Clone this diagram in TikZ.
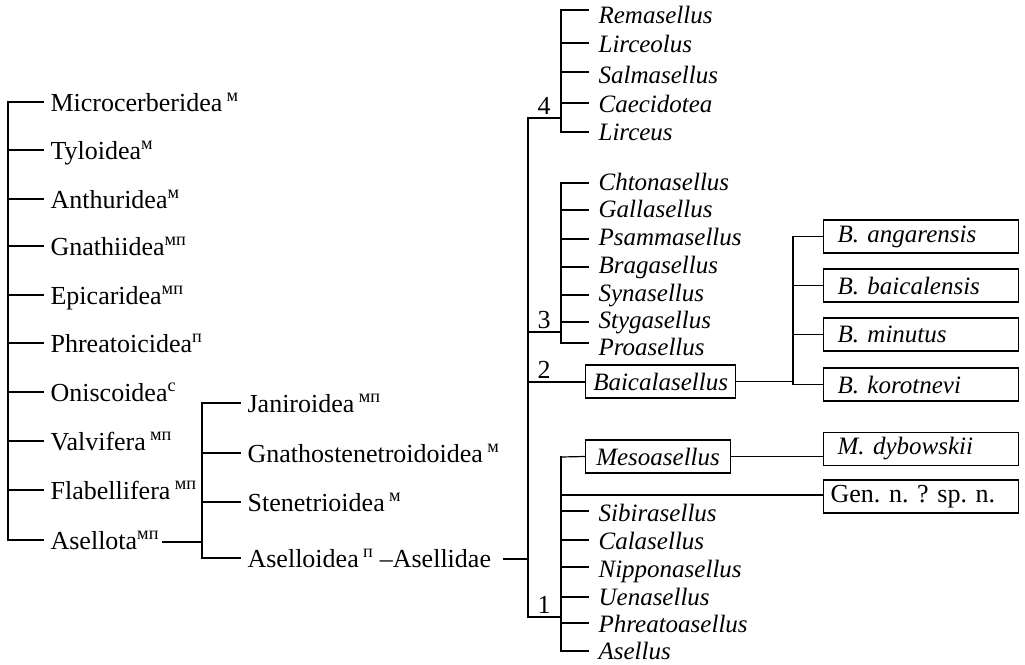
\documentclass[tikz,border=0pt]{standalone}
\usepackage{fontspec}
\setmainfont{Liberation Serif}
\newcommand\ssc[1]{\textsuperscript{#1}}
\begin{document}
\frenchspacing
\begin{tikzpicture}[x=1pt,y=-1pt, line width=1.2pt, line cap=rect,
  up/.style={font=\fontsize{26}{30}\selectfont, inner sep=0pt, anchor=base west},
  it/.style={font=\fontsize{25}{28}\selectfont\itshape, inner sep=0pt, anchor=base west},
  num/.style={font=\fontsize{26}{30}\selectfont, inner sep=0pt, anchor=base},
  twig/.style={shorten >=7pt},
  twigb/.style={shorten >=10pt},
  taxbox/.style={draw, line width=1.2pt, minimum height=33pt, inner ysep=0pt, font=\fontsize{25}{28}\selectfont\itshape},
  spbox/.style={taxbox, minimum width=195pt, text width=167pt, inner xsep=14pt, align=left, anchor=west}
]
\useasboundingbox (0,0) rectangle (1025,664);

% ---- left column
\foreach \n/\y/\t in {1/102/{Microcerberidea\,\ssc{м}},2/150/{Tyloidea\ssc{м}},3/199/{Anthuridea\ssc{м}},
  4/246/{Gnathiidea\ssc{мп}},5/295/{Epicaridea\ssc{мп}},6/343/{Phreatoicidea\ssc{п}},
  7/392/{Oniscoidea\ssc{с}},8/441/{Valvifera\,\ssc{мп}},9/490/{Flabellifera\,\ssc{мп}},10/540/{Asellota\ssc{мп}}}{
  \coordinate (l\n) at (8,\y);
  \node[up] (m\n) at (50,\y+9) {\t};
  \draw[twig] (l\n) -- (l\n -| m\n.west);
}
\draw (l1) -- (l10);

% ---- Asellota subtree
\coordinate (s0) at (202,542);
\draw[shorten <=3pt] (m10.east |- s0) -- (s0);
\foreach \n/\y/\t in {1/403/{Janiroidea\,\ssc{мп}},2/453/{Gnathostenetroidoidea\,\ssc{м}},
  3/502/{Stenetrioidea\,\ssc{м}},4/558/{Aselloidea\,\ssc{п} –Asellidae}}{
  \coordinate (s\n) at (202,\y);
  \node[up] (a\n) at (247,\y+9) {\t};
  \draw[twig] (s\n) -- (s\n -| a\n.west);
}
\draw (s1) -- (s4);

% ---- main right stem
\coordinate (r0) at (528,559);
\coordinate (r4) at (528,118);
\coordinate (r3) at (528,332);
\coordinate (r2) at (528,382);
\coordinate (r1) at (528,617);
\draw[shorten <=12pt] (a4.east |- r0) -- (r0);
\draw (r4) -- (r1);
\node[num] (n4) at (544,114) {4};
\node[num] (n3) at (544,328) {3};
\node[num] (n2) at (544,378) {2};
\node[num] (n1) at (544,613) {1};

% ---- group 4
\coordinate (g4) at (561,118);
\draw (r4) -- (g4);
\foreach \n/\y/\b/\t in {1/10/23/Remasellus,2/43/52/Lirceolus,3/72/83/Salmasellus,4/103/112/Caecidotea,5/132/140/Lirceus}{
  \coordinate (f\n) at (561,\y);
  \node[it] (fa\n) at (598,\b) {\t};
  \draw[twigb] (f\n) -- (f\n -| fa\n.west);
}
\draw (f1) -- (f5);

% ---- group 3
\coordinate (g3) at (561,332);
\draw (r3) -- (g3);
\foreach \n/\y/\b/\t in {1/183/190/Chtonasellus,2/210/217/Gallasellus,3/239/245/Psammasellus,4/267/273/Bragasellus,
  5/295/301/Synasellus,6/322/328/Stygasellus,7/343/355/Proasellus}{
  \coordinate (h\n) at (561,\y);
  \node[it] (ha\n) at (598,\b) {\t};
  \draw[twigb] (h\n) -- (h\n -| ha\n.west);
}
\draw (h1) -- (h7);

% ---- group 2
\node[taxbox, minimum width=150pt, anchor=west] (baic) at (585,381.5) {Baicalasellus};
\draw (r2) -- (r2 -| baic.west);
\node[spbox] (b1) at (823,236.5) {B. angarensis};
\node[spbox] (b2) at (823,285.5) {B. baicalensis};
\node[spbox] (b3) at (823,334.5) {B. minutus};
\node[spbox] (b4) at (823,384.5) {B. korotnevi};
\coordinate (bt) at (793,236.5);
\coordinate (bb) at (793,384.5);
\draw (baic.east) -- (baic.east -| bt);
\draw (bt) -- (bb);
\foreach \n in {1,2,3,4}{
  \draw (b\n.west -| bt) -- (b\n.west);
}

% ---- group 1
\coordinate (g1) at (561,617);
\draw (r1) -- (g1);
\node[taxbox, minimum width=145pt, anchor=west] (meso) at (585,456.5) {Mesoasellus};
\node[spbox] (dyb) at (823,449) {M. dybowskii};
\node[spbox, inner xsep=7pt, text width=181pt, font=\fontsize{26}{30}\selectfont\upshape] (gen) at (823,496.5) {Gen. n. ? sp. n.};
\coordinate (k0) at (561,457);
\coordinate (kg) at (561,495);
\draw (k0) -- (meso.west);
\draw (meso.east) -- (meso.east -| dyb.west);
\draw (kg) -- (kg -| gen.west);
\foreach \n/\y/\b/\t in {1/511/521/Sibirasellus,2/540/549/Calasellus,3/567/577/Nipponasellus,4/597/605/Uenasellus,
  5/623/632/Phreatoasellus,6/651/659/Asellus}{
  \coordinate (k\n) at (561,\y);
  \node[it] (ka\n) at (598,\b) {\t};
  \draw[twigb] (k\n) -- (k\n -| ka\n.west);
}
\draw (k0) -- (k6);
\end{tikzpicture}
\end{document}
